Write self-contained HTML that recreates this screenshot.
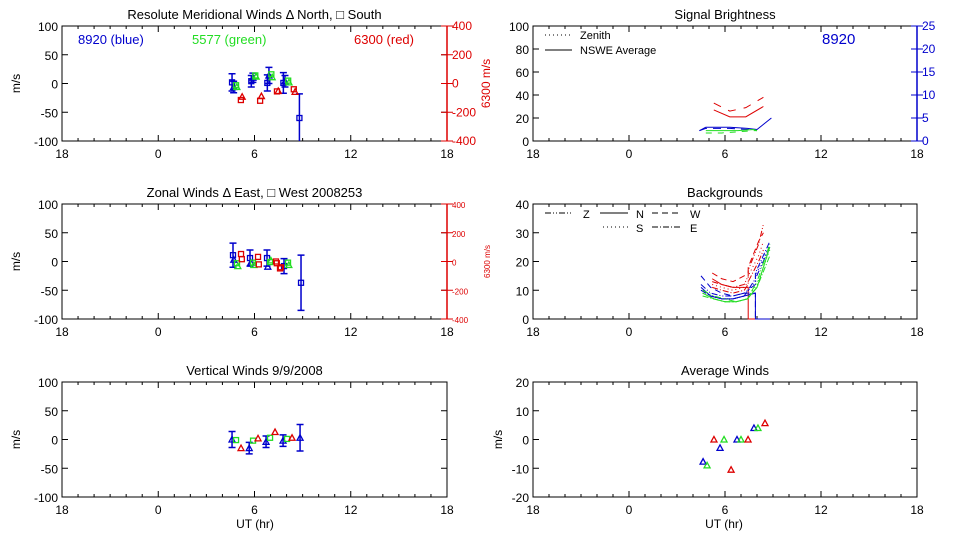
<!DOCTYPE html>
<html><head><meta charset="utf-8"><style>
body{margin:0;background:#fff;}
svg{display:block;font-family:"Liberation Sans",sans-serif;}
</style></head><body>
<svg id="c" width="960" height="540" xmlns="http://www.w3.org/2000/svg"></svg>
<script>
// ---- data ----
const merBlueST=[4.6,5.8,6.8,7.8,8.8], merBlueSV=[2,4,1,1,-60], merBlueSE=[15,10,14,18,42];
const merBlueNT=[4.7,5.9,6.9,7.9], merBlueNV=[-6,10,14,4], merBlueNE=[10,8,14,10];
const merGreenT=[4.85,6.05,7.05,8.1], merGreenSV=[-3,14,16,5], merGreenNV=[-6,12,11,2];
const merRedT=[5.15,6.35,7.4,8.45], merRedSV=[-115,-120,-55,-40], merRedNV=[-92,-88,-52,-58];
const zonBlueT=[4.66,5.72,6.78,7.84,8.9], zonBlueV=[11,6,6,-8,-37], zonBlueE=[21,14,14,13,48];
const zonBlueT2=[4.66,5.72,6.78], zonBlueV2=[3,-2,-9];
const zonGreenT=[4.91,5.91,6.97,8.09], zonGreenV=[-3,-2,-1,-2], zonGreenV2=[-8,-6,2,-6];
const zonRedT=[5.16,6.22,7.34,7.59], zonRedV=[52,32,0,-48], zonRedV2=[16,-20,-12,-40];
const verBlueT=[4.6,5.67,6.72,7.78,8.84], verBlueV=[0,-15,-4,-2,3], verBlueE=[14,10,10,10,23];
const verGreenT=[4.85,5.91,6.97,8.03], verGreenV=[-1,-2,3,1];
const verRedT=[5.16,6.22,7.28,8.34], verRedV=[-15,2,13,3];
const avgBlueT=[4.63,5.69,6.75,7.81], avgBlueV=[-7.7,-2.9,0,4];
const avgGreenT=[4.88,5.94,7.0,8.06], avgGreenV=[-9,0,0,4];
const avgRedT=[5.31,6.38,7.44,8.5], avgRedV=[0,-10.5,0,5.7];
const sigRedT=[5.3,6.3,7.3,8.4], sigRedSolid=[27,21,21,30], sigRedDash=[33,26,29,38];
const sigBlueT=[4.4,4.8,6.3,7.4,8.0,8.9], sigBlueSolid=[9,12,12,11,10,20], sigBlueDash=[9,11,11,10,9,9];
const sigGreenT=[4.8,5.8,6.8,7.8,8.0], sigGreenSolid=[9,9,9,10,9], sigGreenDash=[7,7,8,9,9];
const bgRedT=[5.2,5.8,6.5,7.2,7.45,7.45,8.1,8.4];
const bgRedZ=[13,12,11,12,15,17,26,33], bgRedN=[14,12,11,11,11,0,0,0], bgRedS=[12,11,10,11,13,15,22,27], bgRedW=[16,14,13,15,16,18,27,30], bgRedE=[11,10,9,10,12,13,20,24];
const bgBlueT=[4.5,5.1,5.8,6.5,7.2,7.9,7.9,8.8];
const bgBlueZ=[12,9,8,8,9,12,14,25], bgBlueN=[11,8,7,7,8,9,0,0], bgBlueS=[10,8,7,7,8,13,15,26], bgBlueW=[15,11,9,8,9,9,0,0], bgBlueE=[10,8,7,7,8,14,16,27];
const bgGreenT=[4.6,5.3,6.0,6.7,7.4,8.0,8.8];
const bgGreenZ=[10,8,7,6,7,13,26], bgGreenN=[9,7,6,6,7,11,25], bgGreenS=[9,7,6,6,7,12,24], bgGreenE=[8,7,6,6,7,11,22];
const xTicks=["18","0","6","12","18"];
const windTicks=["100","50","0","-50","-100"];
const redTicks=["400","200","0","-200","-400"];
const sigTicks=["100","80","60","40","20","0"];
const sigRTicks=["25","20","15","10","5","0"];
const bgTicks=["40","30","20","10","0"];
const avgTicks=["20","10","0","-10","-20"];

const NS="http://www.w3.org/2000/svg";
const svg=document.getElementById('c');
function el(tag,attrs,parent){const e=document.createElementNS(NS,tag);for(const k in attrs)e.setAttribute(k,attrs[k]);(parent||svg).appendChild(e);return e;}
function txt(s,x,y,attrs,parent){const e=el('text',Object.assign({x:x,y:y,'font-size':12,fill:'#000'},attrs||{}),parent);e.textContent=s;return e;}
const BLUE='#0000cc',GREEN='#22dd22',RED='#dd0000';
function panel(name,x0,x1,y0,y1,ymax,ymin,yt,title){
  const g=el('g',{});
  
  
  el('rect',{x:x0,y:y0,width:x1-x0,height:y1-y0,fill:'none',stroke:'#000','stroke-width':1},g);
  const sx=h=>x0+(h+6)*(x1-x0)/24;
  const sy=v=>y0+(ymax-v)*(y1-y0)/(ymax-ymin);
  for(let i=0;i<=24;i++){const x=x0+i*(x1-x0)/24;const L=i%6==0?6:3;
    el('line',{x1:x,x2:x,y1:y1,y2:y1-L,stroke:'#000'},g);el('line',{x1:x,x2:x,y1:y0,y2:y0+L,stroke:'#000'},g);}
  xTicks.forEach((t,i)=>{const l=txt(t,x0+i*(x1-x0)/4,y1+17,{'text-anchor':'middle'},g);});
  yt.forEach((t,i)=>{const y=y0+i*(y1-y0)/(yt.length-1);el('line',{x1:x0,x2:x0+6,y1:y,y2:y,stroke:'#000'},g);el('line',{x1:x1,x2:x1-6,y1:y,y2:y,stroke:'#000'},g);
    const l=txt(t,x0-4,y+5,{'text-anchor':'end'},g);});
  const tt=txt(title,(x0+x1)/2,y0-7,{'text-anchor':'middle','font-size':13},g);
  
  return {g,sx,sy,x0,x1,y0,y1};
}
function rightAxis(p,ticks,color,fs,label){
  ticks.forEach((t,i)=>{const y=p.y0+i*(p.y1-p.y0)/(ticks.length-1);el('line',{x1:p.x1-6,x2:p.x1+6,y1:y,y2:y,stroke:color},p.g);
    const l=txt(t,p.x1+5,y+4,{fill:color,'font-size':fs},p.g);});
  el('line',{x1:p.x1,x2:p.x1,y1:p.y0,y2:p.y1,stroke:color,'stroke-width':1.5},p.g);
  if(label){const cy=(p.y0+p.y1)/2;const l=txt(label,0,0,{fill:color,'font-size':fs,'text-anchor':'middle',transform:`translate(${p.x1+43},${cy}) rotate(-90)`},p.g);
    }
}
function ylab(p,x){const cy=(p.y0+p.y1)/2;const l=txt('m/s',0,0,{'text-anchor':'middle',transform:`translate(${x},${cy}) rotate(-90)`},p.g);
  }
function sym(p,type,h,v,color,sy){
  const x=p.sx(h),y=(sy||p.sy)(v);let e;
  if(type==='sq')e=el('rect',{x:x-2.5,y:y-2.5,width:5,height:5,fill:'none',stroke:color,'stroke-width':1.3},p.g);
  else e=el('path',{d:`M${x-3},${y+2.5}L${x+3},${y+2.5}L${x},${y-3}Z`,fill:'none',stroke:color,'stroke-width':1.3},p.g);
  
  
}
function err(p,h,v,e,color){const x=p.sx(h);const ya=Math.max(p.y0,p.sy(v+e)),yb=Math.min(p.y1,p.sy(v-e));
  const g=el('path',{d:`M${x},${ya}V${yb}M${x-3.5},${ya}H${x+3.5}`+(p.sy(v-e)<=p.y1?`M${x-3.5},${yb}H${x+3.5}`:''),stroke:color,'stroke-width':1.5,fill:'none'},p.g);
  
  }
function line(p,T,V,color,dash){const d=T.map((t,i)=>(i?'L':'M')+p.sx(t)+','+p.sy(V[i])).join('');
  const e=el('path',{d:d,fill:'none',stroke:color,'stroke-width':1,'stroke-dasharray':dash||'none'},p.g);
  
  }
const DASH={Z:'6,2,1,2,1,2',N:'none',S:'1,3',W:'6,4',E:'6,2,1,2'};

// Meridional
const p1=panel('meridional-panel',62,447,26,141,100,-100,windTicks,'Resolute Meridional Winds \u0394 North, \u25a1 South');
rightAxis(p1,redTicks,RED,12,'6300 m/s');ylab(p1,20);
const r1=v=>p1.sy(v/4);
txt('8920 (blue)',78,44,{fill:BLUE,'font-size':13},p1.g);
txt('5577 (green)',192,44,{fill:GREEN,'font-size':13},p1.g);
txt('6300 (red)',354,44,{fill:RED,'font-size':13},p1.g);
merBlueST.forEach((t,i)=>{err(p1,t,merBlueSV[i],merBlueSE[i],BLUE);sym(p1,'sq',t,merBlueSV[i],BLUE);});
merBlueNT.forEach((t,i)=>{err(p1,t,merBlueNV[i],merBlueNE[i],BLUE);sym(p1,'tr',t,merBlueNV[i],BLUE);});
merGreenT.forEach((t,i)=>{sym(p1,'sq',t,merGreenSV[i],GREEN);sym(p1,'tr',t+0.05,merGreenNV[i],GREEN);});
merRedT.forEach((t,i)=>{sym(p1,'sq',t,merRedSV[i],RED,r1);sym(p1,'tr',t+0.08,merRedNV[i],RED,r1);});

// Zonal
const p2=panel('zonal-panel',62,447,204,319,100,-100,windTicks,'Zonal Winds \u0394 East, \u25a1 West 2008253');
rightAxis(p2,redTicks,RED,8,'6300 m/s');ylab(p2,20);
const r2=v=>p2.sy(v/4);
zonBlueT.forEach((t,i)=>{err(p2,t,zonBlueV[i],zonBlueE[i],BLUE);sym(p2,'sq',t,zonBlueV[i],BLUE);});
zonBlueT2.forEach((t,i)=>sym(p2,'tr',t+0.05,zonBlueV2[i],BLUE));
zonGreenT.forEach((t,i)=>{sym(p2,'sq',t,zonGreenV[i],GREEN);sym(p2,'tr',t+0.05,zonGreenV2[i],GREEN);});
zonRedT.forEach((t,i)=>{sym(p2,'sq',t,zonRedV[i],RED,r2);sym(p2,'sq',t+0.05,zonRedV2[i],RED,r2);});

// Vertical
const p3=panel('vertical-panel',62,447,382,497,100,-100,windTicks,'Vertical Winds 9/9/2008');ylab(p3,20);
verBlueT.forEach((t,i)=>{err(p3,t,verBlueV[i],verBlueE[i],BLUE);sym(p3,'tr',t,verBlueV[i],BLUE);});
verGreenT.forEach((t,i)=>sym(p3,'sq',t,verGreenV[i],GREEN));
verRedT.forEach((t,i)=>sym(p3,'tr',t,verRedV[i],RED));
txt('UT (hr)',255,528,{'text-anchor':'middle'});

// Signal brightness
const p4=panel('signal-panel',533,917,26,141,100,0,sigTicks,'Signal Brightness');
rightAxis(p4,sigRTicks,BLUE,12,null);
el('line',{x1:545,x2:572,y1:35,y2:35,stroke:'#000','stroke-dasharray':'1,3'},p4.g);txt('Zenith',580,39,{'font-size':11},p4.g);
el('line',{x1:545,x2:572,y1:50,y2:50,stroke:'#000'},p4.g);txt('NSWE Average',580,54,{'font-size':11},p4.g);
txt('8920',822,44,{fill:BLUE,'font-size':15},p4.g);
line(p4,sigRedT,sigRedSolid,RED);line(p4,sigRedT,sigRedDash,RED,'8,8');
line(p4,sigBlueT,sigBlueSolid,BLUE);line(p4,sigBlueT.slice(0,5),sigBlueDash.slice(0,5),BLUE,'8,6');
line(p4,sigGreenT,sigGreenSolid,GREEN);line(p4,sigGreenT,sigGreenDash,GREEN,'6,6');

// Backgrounds
const p5=panel('backgrounds-panel',533,917,204,319,40,0,bgTicks,'Backgrounds');
[['Z',545,213,583],['N',600,213,636],['W',652,213,690],['S',603,227,636],['E',652,227,690]].forEach(a=>{
  el('line',{x1:a[1],x2:a[1]+28,y1:a[2],y2:a[2],stroke:'#000','stroke-dasharray':DASH[a[0]]},p5.g);txt(a[0],a[3],a[2]+5,{'font-size':11},p5.g);});
line(p5,bgRedT,bgRedZ,RED,DASH.Z);line(p5,bgRedT,bgRedN,RED);line(p5,bgRedT,bgRedS,RED,DASH.S);line(p5,bgRedT,bgRedW,RED,DASH.W);line(p5,bgRedT,bgRedE,RED,DASH.E);
line(p5,bgBlueT,bgBlueZ,BLUE,DASH.Z);line(p5,bgBlueT,bgBlueN,BLUE);line(p5,bgBlueT,bgBlueS,BLUE,DASH.S);line(p5,bgBlueT,bgBlueW,BLUE,DASH.W);line(p5,bgBlueT,bgBlueE,BLUE,DASH.E);
line(p5,bgGreenT,bgGreenZ,GREEN,DASH.Z);line(p5,bgGreenT,bgGreenN,GREEN);line(p5,bgGreenT,bgGreenS,GREEN,DASH.S);line(p5,bgGreenT,bgGreenE,GREEN,DASH.E);

// Average winds
const p6=panel('average-winds-panel',533,917,382,497,20,-20,avgTicks,'Average Winds');ylab(p6,502);
avgBlueT.forEach((t,i)=>sym(p6,'tr',t,avgBlueV[i],BLUE));
avgGreenT.forEach((t,i)=>sym(p6,'tr',t,avgGreenV[i],GREEN));
avgRedT.forEach((t,i)=>sym(p6,'tr',t,avgRedV[i],RED));
txt('UT (hr)',724,528,{'text-anchor':'middle'});
</script>
</body></html>
